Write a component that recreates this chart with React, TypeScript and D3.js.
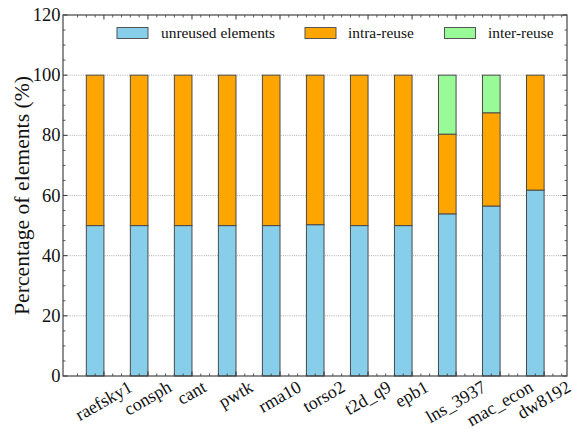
import React from "react";
import * as d3 from "d3";

const categories = [
  "raefsky1", "consph", "cant", "pwtk", "rma10", "torso2",
  "t2d_q9", "epb1", "lns_3937", "mac_econ", "dw8192",
];
const unreused = [50, 50, 50, 50, 50, 50.3, 50, 50, 53.9, 56.5, 61.8];
const intraReuse = [50, 50, 50, 50, 50, 49.7, 50, 50, 26.5, 31.0, 38.2];
const interReuse = [0, 0, 0, 0, 0, 0, 0, 0, 19.6, 12.5, 0];
const seriesNames = ["unreused elements", "intra-reuse", "inter-reuse"];
const yTicks = [0, 20, 40, 60, 80, 100, 120];

const W = 573;
const H = 429;
const left = 63;
const right = 567;
const top = 15;
const bottom = 376;
const colors = ["#87ceeb", "#ffa500", "#98fb98"];
const edge = "#4a4a4a";
const font = "'Liberation Serif', 'Times New Roman', serif";
const tickFs = 18;

function measure(text: string, size: number): number {
  const c = document.createElement("canvas").getContext("2d");
  if (!c) return text.length * size * 0.45;
  c.font = `${size}px 'Liberation Serif'`;
  return c.measureText(text).width;
}

export default function App() {
  const x = d3.scaleLinear().domain([-0.73, 10.72]).range([left, right]);
  const y = d3.scaleLinear().domain([0, 120]).range([bottom, top]);
  const barW = x(0.4) - x(0);

  const stacked = d3.stack<number>().keys(["0", "1", "2"]).value((i, k) =>
    [unreused, intraReuse, interReuse][+k][i]
  )(d3.range(categories.length));

  const yMinor = d3.range(0, 121, 5).filter((v) => v % 20 !== 0);
  const xMajor = categories.map((_, i) => i + 0.2);
  const xMinor = d3.range(-3, 54).map((k) => k * 0.2 + 0.2).filter(
    (v) => v > -0.73 && v < 10.72 && Math.abs(v - Math.round(v - 0.2) - 0.2) > 1e-6
  );

  const legend = [
    { px: 117, tx: 161 },
    { px: 305, tx: 348 },
    { px: 444.5, tx: 488 },
  ];

  return (
    <svg
      width={W}
      height={H}
      style={{ position: "absolute", left: 0, top: 0, background: "#fff" }}
      fontFamily={font}
    >
      {/* grid */}
      {yTicks.filter((v) => v > 0 && v < 120).map((v) => (
        <line key={v} x1={left} x2={right} y1={y(v)} y2={y(v)}
          stroke="#9a9a9a" strokeWidth={0.8} strokeDasharray="1,1.2" />
      ))}

      {/* stacked bars */}
      {stacked.map((layer, li) => (
        <g key={li}>
          {layer.map((d, i) =>
            d[1] - d[0] > 0 ? (
              <rect key={i} x={x(i) - barW / 2} y={y(d[1])} width={barW}
                height={y(d[0]) - y(d[1])} fill={colors[li]}
                stroke={edge} strokeWidth={1} />
            ) : null
          )}
        </g>
      ))}

      {/* ticks */}
      {yTicks.map((v) => (
        <g key={"ym" + v}>
          <line x1={left} x2={left + 4.5} y1={y(v)} y2={y(v)} stroke="#333" />
          <line x1={right} x2={right - 4.5} y1={y(v)} y2={y(v)} stroke="#333" />
          <text x={left - 2.5} y={y(v)} dy="0.33em" textAnchor="end"
            fontSize={18.5} fill="#111">{v}</text>
        </g>
      ))}
      {yMinor.map((v) => (
        <g key={"yn" + v}>
          <line x1={left} x2={left + 2.5} y1={y(v)} y2={y(v)} stroke="#333" strokeWidth={0.8} />
          <line x1={right} x2={right - 2.5} y1={y(v)} y2={y(v)} stroke="#333" strokeWidth={0.8} />
        </g>
      ))}
      {xMajor.map((v) => (
        <g key={"xm" + v}>
          <line x1={x(v)} x2={x(v)} y1={top} y2={top + 4.5} stroke="#333" />
          <line x1={x(v)} x2={x(v)} y1={bottom} y2={bottom - 4.5} stroke="#333" />
        </g>
      ))}
      {xMinor.map((v) => (
        <g key={"xn" + v}>
          <line x1={x(v)} x2={x(v)} y1={top} y2={top + 2.5} stroke="#333" strokeWidth={0.8} />
          <line x1={x(v)} x2={x(v)} y1={bottom} y2={bottom - 2.5} stroke="#333" strokeWidth={0.8} />
        </g>
      ))}

      {/* frame */}
      <rect x={left} y={top} width={right - left} height={bottom - top}
        fill="none" stroke="#444" strokeWidth={1.2} />

      {/* category labels */}
      {categories.map((c, i) => {
        const w = measure(c, tickFs);
        const h = w * 0.5 + tickFs * 0.8;
        const cx = x(i + 0.2);
        const cy = 378.5 + h / 2;
        return (
          <text key={c} transform={`translate(${cx},${cy}) rotate(-30)`}
            textAnchor="middle" dy="0.3em" fontSize={tickFs} fill="#111">{c}</text>
        );
      })}

      {/* y title */}
      <text transform={`translate(29,${(top + bottom) / 2}) rotate(-90)`}
        textAnchor="middle" fontSize={21.7} fill="#111">
        Percentage of elements (%)
      </text>

      {/* legend */}
      {seriesNames.map((n, i) => (
        <g key={n}>
          <rect x={legend[i].px} y={27.5} width={31} height={11}
            fill={colors[i]} stroke="#555" strokeWidth={1} />
          <text x={legend[i].tx} y={33} dy="0.33em" fontSize={15.4} fill="#111">{n}</text>
        </g>
      ))}
    </svg>
  );
}
